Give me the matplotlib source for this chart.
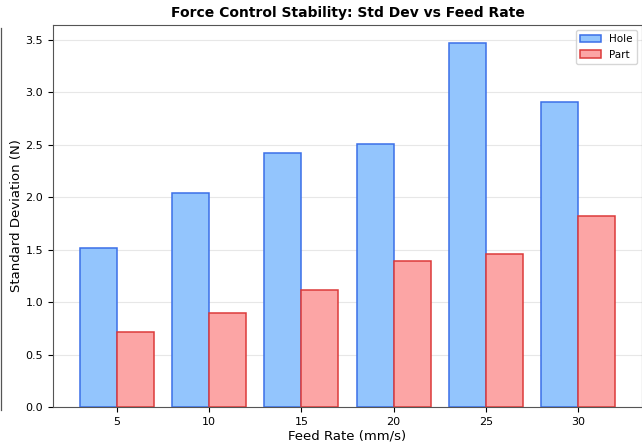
import numpy as np
import matplotlib.pyplot as plt
from matplotlib.lines import Line2D

# Data
feed_rates = [5, 10, 15, 20, 25, 30]
hole_std = [1.52, 2.04, 2.42, 2.51, 3.47, 2.91]
part_std = [0.72, 0.90, 1.12, 1.39, 1.46, 1.82]

fig = plt.figure(figsize=(6.42, 4.45), dpi=100)
ax = fig.add_axes([53 / 642, 38 / 445, 589 / 642, 382 / 445])

x = np.array(feed_rates, dtype=float)
width = 2.0
ax.bar(x - width / 2, hole_std, width, label='Hole',
       facecolor='#93c5fd', edgecolor='#3b6fe8', linewidth=1.1)
ax.bar(x + width / 2, part_std, width, label='Part',
       facecolor='#fca5a5', edgecolor='#dc3a3a', linewidth=1.1)

ax.set_xticks(feed_rates)
ax.set_xticklabels([str(f) for f in feed_rates])
ax.set_xlabel('Feed Rate (mm/s)', fontsize=9.5, labelpad=2)
ax.set_ylabel('Standard Deviation (N)', fontsize=9.5, labelpad=2)
ax.set_title('Force Control Stability: Std Dev vs Feed Rate',
             fontsize=10, fontweight='bold', pad=6)
ax.tick_params(labelsize=8)
ax.yaxis.grid(True, alpha=0.3)
ax.set_axisbelow(True)
for s in ax.spines.values():
    s.set_color('#555555')
ax.legend(loc='upper right', fontsize=7.5)

# edge of the neighbouring panel that is cut off on the left
fig.add_artist(Line2D([1.5 / 642, 1.5 / 642], [35 / 445, 417 / 445],
                      transform=fig.transFigure, color='#555555', linewidth=0.9))

plt.savefig('out.png', dpi=100)
